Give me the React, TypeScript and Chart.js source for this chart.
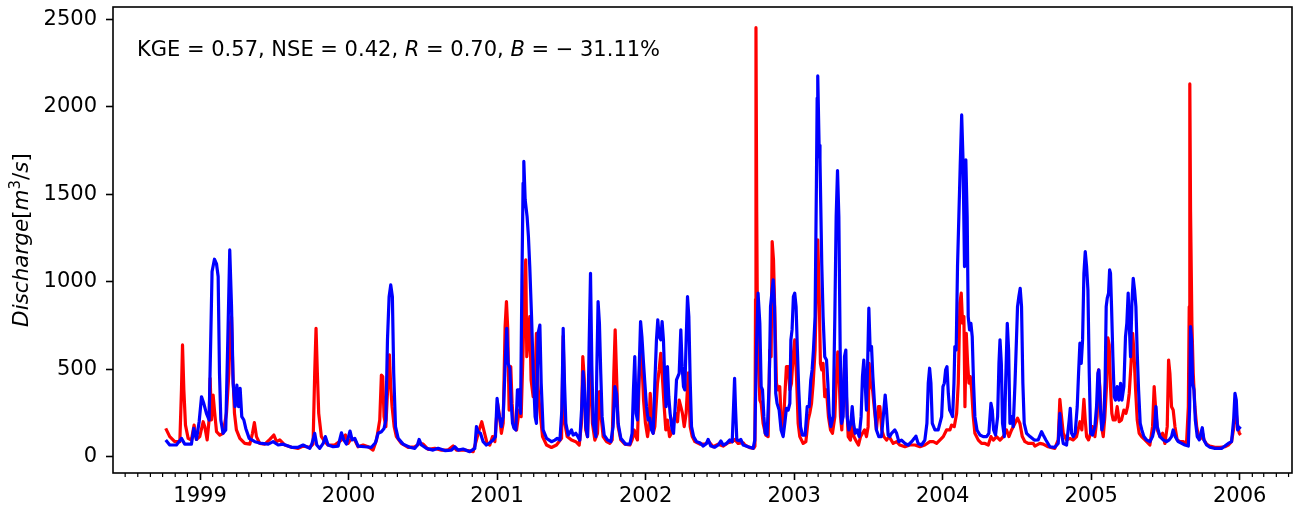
import React, { useEffect, useRef } from "react";
import { Chart, registerables } from "chart.js";

Chart.register(...registerables);

// ---------- axis definitions ----------
const yearTicks = [1999, 2000, 2001, 2002, 2003, 2004, 2005, 2006];
const dischargeTicks = [0, 500, 1000, 1500, 2000, 2500];
const xMin = 1998.414;
const xMax = 2006.352;
const yMin = -93;
const yMax = 2571;
// day-of-year of the first day of Feb..Dec (minor month ticks)
const monthStartDays = [31, 59, 90, 120, 151, 181, 212, 243, 273, 304, 334];

const statsText: [string, boolean][] = [
  ["KGE = 0.57, NSE = 0.42, ", false],
  ["R", true],
  [" = 0.70, ", false],
  ["B", true],
  [" = \u2212 31.11%", false],
];

// ---------- series: [decimal year, discharge m3/s] ----------
const observed: [number, number][] = [
  [1998.769, 162], [1998.796, 115], [1998.830, 86], [1998.864, 86], [1998.875, 382], [1998.882, 639], [1998.891, 382], [1998.902, 181], [1998.920, 105], [1998.942, 96], [1998.960, 181], [1998.976, 99], [1998.998, 115], [1999.021, 200], [1999.032, 172], [1999.048, 96], [1999.061, 210], [1999.068, 448], [1999.077, 210], [1999.088, 353], [1999.099, 248], [1999.111, 143], [1999.133, 124], [1999.155, 134], [1999.178, 248], [1999.194, 477], [1999.205, 763], [1999.212, 800], [1999.221, 477], [1999.232, 248], [1999.245, 153], [1999.268, 105], [1999.301, 76], [1999.335, 72], [1999.353, 134], [1999.366, 195], [1999.380, 115], [1999.402, 76], [1999.436, 72], [1999.470, 99], [1999.497, 124], [1999.515, 86], [1999.537, 96], [1999.571, 67], [1999.616, 54], [1999.661, 48], [1999.694, 61], [1999.739, 54],
  [1999.761, 72], [1999.772, 477], [1999.781, 734], [1999.790, 477], [1999.799, 248], [1999.817, 115], [1999.840, 86], [1999.862, 67], [1999.907, 67], [1999.952, 96], [1999.979, 124], [1999.997, 76], [2000.019, 105], [2000.042, 96], [2000.064, 57], [2000.098, 67], [2000.132, 57], [2000.165, 38], [2000.188, 96], [2000.210, 210], [2000.221, 467], [2000.230, 458], [2000.239, 229], [2000.251, 172], [2000.266, 439], [2000.275, 582], [2000.284, 400], [2000.293, 286], [2000.307, 172], [2000.322, 115], [2000.356, 76], [2000.401, 54], [2000.446, 57], [2000.480, 76], [2000.502, 72], [2000.536, 42], [2000.581, 48], [2000.626, 38], [2000.670, 38], [2000.704, 61],
  [2000.726, 38], [2000.783, 38], [2000.839, 29], [2000.861, 95], [2000.879, 153], [2000.897, 200], [2000.913, 143], [2000.933, 76], [2000.951, 67], [2000.969, 115], [2000.985, 86], [2001.003, 305], [2001.014, 248], [2001.029, 134], [2001.041, 191], [2001.054, 744], [2001.063, 887], [2001.072, 725], [2001.081, 267], [2001.092, 515], [2001.101, 305], [2001.112, 172], [2001.131, 153], [2001.149, 267], [2001.162, 229], [2001.175, 610], [2001.187, 1030], [2001.193, 1125], [2001.200, 572], [2001.211, 687], [2001.220, 801], [2001.229, 439], [2001.243, 343], [2001.256, 458], [2001.265, 706], [2001.274, 420], [2001.288, 267], [2001.306, 115], [2001.333, 67], [2001.366, 53], [2001.400, 67], [2001.434, 105], [2001.445, 690], [2001.456, 191], [2001.472, 115], [2001.501, 95], [2001.530, 86], [2001.553, 67], [2001.568, 191], [2001.577, 572], [2001.586, 458], [2001.597, 153], [2001.609, 115], [2001.626, 550], [2001.642, 191], [2001.658, 95],
  [2001.676, 134], [2001.689, 372], [2001.698, 248], [2001.714, 115], [2001.737, 86], [2001.759, 76], [2001.775, 96], [2001.786, 477], [2001.795, 725], [2001.804, 477], [2001.815, 172], [2001.833, 96], [2001.860, 72], [2001.894, 67], [2001.909, 96], [2001.923, 153], [2001.934, 115], [2001.945, 96], [2001.961, 572], [2001.972, 610], [2001.986, 324], [2001.999, 191], [2002.013, 115], [2002.022, 172], [2002.031, 362], [2002.040, 248], [2002.051, 134], [2002.062, 172], [2002.080, 420], [2002.091, 496], [2002.102, 591], [2002.114, 439], [2002.125, 286], [2002.136, 153], [2002.147, 210], [2002.161, 115], [2002.174, 134], [2002.188, 210], [2002.201, 248], [2002.215, 200], [2002.226, 324], [2002.237, 286], [2002.248, 248], [2002.260, 172], [2002.273, 248], [2002.287, 480], [2002.300, 172], [2002.314, 115], [2002.332, 86], [2002.365, 72], [2002.399, 72], [2002.426, 86], [2002.455, 57], [2002.489, 72], [2002.522, 61], [2002.556, 80], [2002.583, 86], [2002.601, 99], [2002.623, 76], [2002.657, 80],
  [2002.668, 67], [2002.701, 52], [2002.728, 48], [2002.736, 60], [2002.740, 900], [2002.743, 2453], [2002.748, 1400], [2002.753, 750], [2002.760, 520], [2002.769, 324], [2002.778, 305], [2002.791, 191], [2002.809, 124], [2002.825, 115], [2002.836, 610], [2002.845, 572], [2002.852, 1230], [2002.861, 1125], [2002.870, 820], [2002.881, 420], [2002.892, 382], [2002.903, 401], [2002.915, 172], [2002.926, 134], [2002.937, 343], [2002.948, 515], [2002.960, 515], [2002.971, 382], [2002.982, 420], [2002.993, 572], [2003.004, 668], [2003.016, 458], [2003.027, 191], [2003.038, 115], [2003.061, 76], [2003.079, 86], [2003.094, 210], [2003.105, 248], [2003.117, 305], [2003.128, 420], [2003.141, 610], [2003.150, 954], [2003.159, 1240], [2003.168, 954], [2003.177, 534], [2003.186, 496], [2003.195, 534], [2003.206, 343], [2003.218, 382], [2003.231, 229], [2003.245, 153], [2003.258, 134], [2003.274, 229], [2003.285, 480], [2003.294, 600], [2003.303, 450], [2003.312, 229], [2003.321, 153], [2003.334, 420], [2003.343, 572], [2003.352, 343], [2003.364, 115], [2003.379, 95], [2003.393, 229], [2003.402, 115], [2003.420, 86], [2003.433, 67], [2003.447, 115], [2003.460, 134], [2003.474, 153], [2003.487, 115], [2003.498, 172], [2003.505, 534], [2003.514, 420], [2003.528, 382], [2003.541, 267], [2003.554, 153], [2003.568, 286], [2003.577, 286], [2003.590, 153], [2003.604, 115], [2003.622, 95], [2003.640, 115],
  [2003.667, 76], [2003.690, 86], [2003.712, 67], [2003.746, 57], [2003.779, 67], [2003.813, 67], [2003.847, 57], [2003.880, 67], [2003.914, 86], [2003.937, 86], [2003.959, 76], [2003.981, 95], [2004.004, 115], [2004.026, 153], [2004.049, 153], [2004.060, 181], [2004.078, 172], [2004.094, 248], [2004.105, 420], [2004.116, 877], [2004.125, 935], [2004.134, 763], [2004.143, 801], [2004.150, 286], [2004.159, 706], [2004.168, 534], [2004.177, 420], [2004.186, 458], [2004.195, 382], [2004.206, 229], [2004.217, 134], [2004.240, 95], [2004.262, 76], [2004.285, 76], [2004.307, 67], [2004.325, 115], [2004.341, 95], [2004.363, 115], [2004.386, 95], [2004.408, 115], [2004.430, 153], [2004.446, 115], [2004.464, 153], [2004.487, 191], [2004.504, 220], [2004.520, 191], [2004.536, 115], [2004.554, 86], [2004.576, 76], [2004.610, 76],
  [2004.621, 61], [2004.654, 76], [2004.677, 72], [2004.710, 57], [2004.755, 48], [2004.778, 96], [2004.789, 328], [2004.798, 248], [2004.812, 134], [2004.834, 96], [2004.856, 105], [2004.879, 96], [2004.901, 115], [2004.924, 200], [2004.937, 153], [2004.951, 328], [2004.960, 210], [2004.969, 115], [2004.982, 96], [2004.996, 134], [2005.009, 172], [2005.025, 115], [2005.040, 229], [2005.049, 496], [2005.058, 401], [2005.070, 172], [2005.081, 115], [2005.092, 229], [2005.103, 401], [2005.112, 680], [2005.121, 640], [2005.130, 401], [2005.139, 248], [2005.148, 210], [2005.162, 210], [2005.175, 286], [2005.189, 200], [2005.204, 210], [2005.220, 267], [2005.234, 248], [2005.245, 286], [2005.256, 362], [2005.267, 515], [2005.279, 706], [2005.287, 610], [2005.299, 382], [2005.310, 210], [2005.323, 134], [2005.339, 115], [2005.362, 96], [2005.395, 67], [2005.413, 172], [2005.424, 401], [2005.433, 286], [2005.445, 153], [2005.463, 115], [2005.481, 134], [2005.496, 76], [2005.512, 172], [2005.521, 553], [2005.530, 477], [2005.541, 286], [2005.552, 267], [2005.564, 172], [2005.579, 96], [2005.597, 86],
  [2005.620, 86], [2005.642, 76], [2005.654, 286], [2005.660, 858], [2005.664, 2131], [2005.669, 1400], [2005.678, 763], [2005.687, 477], [2005.698, 286], [2005.710, 172], [2005.723, 115], [2005.737, 105], [2005.750, 134], [2005.759, 96], [2005.777, 72], [2005.799, 61], [2005.833, 54], [2005.867, 54], [2005.900, 57], [2005.923, 67], [2005.945, 86], [2005.961, 172], [2005.972, 286], [2005.984, 191], [2005.997, 134], [2006.006, 124],
];

const simulated: [number, number][] = [
  [1998.769, 96], [1998.796, 67], [1998.841, 67], [1998.875, 105], [1998.897, 72], [1998.942, 72], [1998.958, 162], [1998.976, 99], [1998.994, 200], [1999.010, 343], [1999.025, 305], [1999.043, 248], [1999.061, 210], [1999.072, 668], [1999.081, 1059], [1999.097, 1129], [1999.111, 1102], [1999.122, 1030], [1999.131, 477], [1999.140, 210], [1999.155, 134], [1999.173, 153], [1999.187, 668], [1999.200, 1182], [1999.212, 858], [1999.223, 420], [1999.236, 286], [1999.248, 410], [1999.259, 286], [1999.270, 391], [1999.281, 229], [1999.295, 210], [1999.308, 162], [1999.331, 105], [1999.369, 86], [1999.414, 76], [1999.459, 72], [1999.492, 86], [1999.526, 67], [1999.560, 72], [1999.616, 54], [1999.661, 54], [1999.694, 67], [1999.739, 48],
  [1999.754, 76], [1999.772, 134], [1999.786, 67], [1999.806, 48], [1999.829, 76], [1999.844, 115], [1999.862, 67], [1999.896, 57], [1999.930, 61], [1999.952, 137], [1999.968, 96], [1999.986, 72], [2000.010, 147], [2000.024, 96], [2000.042, 105], [2000.064, 61], [2000.109, 57], [2000.154, 54], [2000.181, 80], [2000.199, 134], [2000.221, 143], [2000.239, 162], [2000.251, 210], [2000.262, 668], [2000.273, 915], [2000.284, 982], [2000.295, 915], [2000.304, 477], [2000.316, 172], [2000.334, 105], [2000.367, 72], [2000.412, 54], [2000.446, 48], [2000.464, 67], [2000.475, 99], [2000.491, 67], [2000.525, 48], [2000.569, 38], [2000.603, 48], [2000.648, 35], [2000.693, 38],
  [2000.715, 57], [2000.738, 38], [2000.771, 44], [2000.816, 29], [2000.850, 48], [2000.861, 172], [2000.872, 143], [2000.888, 134], [2000.906, 86], [2000.928, 67], [2000.951, 80], [2000.973, 95], [2000.989, 115], [2001.000, 334], [2001.011, 248], [2001.029, 172], [2001.041, 229], [2001.054, 515], [2001.065, 734], [2001.074, 534], [2001.086, 506], [2001.095, 305], [2001.104, 191], [2001.115, 162], [2001.126, 153], [2001.137, 382], [2001.146, 382], [2001.158, 248], [2001.167, 992], [2001.175, 1564], [2001.180, 1688], [2001.189, 1469], [2001.202, 1373], [2001.211, 1259], [2001.220, 1087], [2001.232, 801], [2001.243, 496], [2001.256, 229], [2001.265, 191], [2001.276, 706], [2001.288, 753], [2001.297, 420], [2001.310, 153], [2001.333, 105], [2001.366, 86], [2001.389, 95], [2001.405, 105], [2001.423, 95], [2001.436, 267], [2001.445, 734], [2001.454, 420], [2001.463, 191], [2001.479, 124], [2001.501, 153], [2001.512, 124], [2001.530, 134], [2001.544, 115], [2001.557, 95], [2001.570, 286], [2001.579, 486], [2001.588, 382], [2001.597, 172], [2001.609, 115], [2001.620, 648], [2001.629, 1049], [2001.638, 515], [2001.647, 191], [2001.665, 115],
  [2001.671, 477], [2001.680, 887], [2001.689, 763], [2001.698, 477], [2001.707, 229], [2001.721, 124], [2001.743, 96], [2001.766, 86], [2001.781, 172], [2001.793, 401], [2001.804, 362], [2001.815, 191], [2001.833, 105], [2001.865, 72], [2001.894, 72], [2001.909, 134], [2001.918, 382], [2001.927, 572], [2001.936, 248], [2001.945, 210], [2001.957, 515], [2001.966, 773], [2001.975, 687], [2001.986, 534], [2001.995, 420], [2002.006, 286], [2002.017, 210], [2002.028, 220], [2002.040, 153], [2002.051, 134], [2002.062, 420], [2002.073, 668], [2002.082, 782], [2002.091, 687], [2002.102, 668], [2002.111, 773], [2002.120, 668], [2002.129, 439], [2002.138, 286], [2002.147, 515], [2002.156, 343], [2002.165, 248], [2002.177, 162], [2002.188, 134], [2002.199, 286], [2002.208, 439], [2002.217, 458], [2002.226, 477], [2002.237, 725], [2002.246, 515], [2002.255, 401], [2002.264, 382], [2002.273, 668], [2002.282, 915], [2002.291, 801], [2002.300, 439], [2002.309, 172], [2002.323, 115], [2002.343, 86], [2002.365, 80], [2002.388, 61], [2002.410, 76], [2002.421, 99], [2002.439, 61], [2002.466, 54], [2002.489, 67], [2002.507, 90], [2002.522, 67], [2002.545, 76], [2002.567, 96], [2002.583, 86], [2002.592, 286], [2002.599, 448], [2002.605, 286], [2002.614, 96], [2002.630, 92], [2002.641, 99], [2002.657, 67],
  [2002.690, 57], [2002.724, 48], [2002.735, 95], [2002.746, 610], [2002.757, 935], [2002.769, 763], [2002.778, 401], [2002.787, 382], [2002.796, 229], [2002.805, 134], [2002.818, 124], [2002.832, 420], [2002.841, 858], [2002.852, 954], [2002.859, 1011], [2002.868, 858], [2002.876, 363], [2002.885, 305], [2002.899, 267], [2002.912, 153], [2002.926, 115], [2002.937, 191], [2002.948, 277], [2002.960, 267], [2002.971, 305], [2002.978, 668], [2002.986, 725], [2002.995, 916], [2003.004, 935], [2003.013, 858], [2003.022, 610], [2003.031, 382], [2003.043, 172], [2003.056, 124], [2003.074, 124], [2003.088, 286], [2003.101, 286], [2003.112, 439], [2003.121, 496], [2003.130, 610], [2003.141, 801], [2003.150, 1564], [2003.155, 2050], [2003.159, 2177], [2003.163, 2000], [2003.168, 1780], [2003.174, 1700], [2003.179, 1450], [2003.186, 1100], [2003.195, 801], [2003.206, 572], [2003.218, 553], [2003.227, 420], [2003.236, 248], [2003.247, 172], [2003.263, 229], [2003.274, 801], [2003.283, 1373], [2003.292, 1636], [2003.301, 1373], [2003.310, 610], [2003.319, 191], [2003.330, 229], [2003.339, 572], [2003.348, 610], [2003.357, 229], [2003.368, 153], [2003.382, 191], [2003.391, 286], [2003.400, 191], [2003.411, 134], [2003.424, 153], [2003.438, 115], [2003.451, 229], [2003.460, 458], [2003.469, 553], [2003.478, 420], [2003.487, 267], [2003.496, 572], [2003.503, 849], [2003.512, 610], [2003.521, 630], [2003.530, 458], [2003.541, 305], [2003.554, 153], [2003.570, 115], [2003.588, 115], [2003.604, 267], [2003.613, 353], [2003.622, 267], [2003.633, 124], [2003.644, 115],
  [2003.656, 134], [2003.678, 153], [2003.690, 134], [2003.705, 86], [2003.723, 95], [2003.746, 76], [2003.768, 67], [2003.791, 86], [2003.809, 105], [2003.820, 118], [2003.835, 76], [2003.858, 67], [2003.880, 95], [2003.894, 191], [2003.903, 420], [2003.912, 506], [2003.921, 420], [2003.930, 191], [2003.948, 153], [2003.970, 153], [2003.993, 229], [2004.002, 401], [2004.011, 420], [2004.020, 496], [2004.029, 515], [2004.038, 363], [2004.047, 267], [2004.058, 248], [2004.067, 229], [2004.076, 420], [2004.082, 630], [2004.091, 610], [2004.100, 1087], [2004.109, 1373], [2004.118, 1659], [2004.128, 1954], [2004.137, 1700], [2004.147, 1087], [2004.156, 1697], [2004.165, 1373], [2004.172, 801], [2004.181, 725], [2004.190, 763], [2004.199, 687], [2004.208, 420], [2004.217, 229], [2004.231, 153], [2004.251, 124], [2004.273, 115], [2004.296, 115], [2004.311, 134], [2004.325, 305], [2004.334, 267], [2004.343, 153], [2004.356, 124], [2004.370, 229], [2004.379, 534], [2004.386, 668], [2004.395, 534], [2004.403, 191], [2004.415, 115], [2004.424, 420], [2004.435, 763], [2004.444, 610], [2004.453, 191], [2004.464, 229], [2004.475, 172], [2004.487, 420], [2004.496, 649], [2004.504, 858], [2004.513, 916], [2004.522, 963], [2004.531, 858], [2004.540, 420], [2004.549, 191], [2004.565, 134], [2004.588, 115], [2004.617, 95],
  [2004.643, 96], [2004.666, 143], [2004.677, 124], [2004.695, 96], [2004.722, 57], [2004.755, 54], [2004.778, 76], [2004.789, 248], [2004.800, 134], [2004.812, 76], [2004.834, 67], [2004.852, 210], [2004.859, 277], [2004.868, 134], [2004.879, 115], [2004.892, 134], [2004.906, 286], [2004.915, 477], [2004.924, 649], [2004.933, 534], [2004.942, 668], [2004.951, 1049], [2004.960, 1173], [2004.969, 1087], [2004.978, 954], [2004.987, 477], [2004.996, 134], [2005.009, 124], [2005.025, 172], [2005.036, 286], [2005.045, 477], [2005.052, 496], [2005.061, 286], [2005.072, 153], [2005.085, 210], [2005.094, 439], [2005.101, 858], [2005.108, 906], [2005.117, 935], [2005.124, 1068], [2005.130, 1049], [2005.137, 858], [2005.146, 572], [2005.155, 343], [2005.164, 324], [2005.175, 401], [2005.186, 324], [2005.198, 420], [2005.207, 324], [2005.220, 401], [2005.231, 687], [2005.240, 763], [2005.249, 935], [2005.256, 763], [2005.265, 572], [2005.274, 877], [2005.283, 1020], [2005.292, 954], [2005.301, 858], [2005.310, 591], [2005.319, 382], [2005.330, 191], [2005.341, 153], [2005.355, 115], [2005.373, 96], [2005.395, 86], [2005.413, 115], [2005.427, 172], [2005.436, 286], [2005.445, 172], [2005.463, 115], [2005.485, 96], [2005.507, 86], [2005.525, 96], [2005.541, 115], [2005.552, 153], [2005.566, 115], [2005.586, 86],
  [2005.631, 67], [2005.654, 61], [2005.663, 286], [2005.669, 744], [2005.676, 668], [2005.683, 420], [2005.692, 382], [2005.701, 210], [2005.714, 115], [2005.728, 96], [2005.741, 143], [2005.748, 166], [2005.759, 96], [2005.777, 67], [2005.799, 54], [2005.833, 48], [2005.878, 48], [2005.900, 61], [2005.923, 76], [2005.945, 86], [2005.959, 210], [2005.968, 362], [2005.977, 324], [2005.986, 153], [2005.995, 162], [2006.006, 172],
];

const FONT = "'DejaVu Sans', sans-serif";
const TICK_SIZE = 21;
const LABEL_SIZE = 21.5;

export default function App() {
  const canvasRef = useRef<HTMLCanvasElement>(null);

  useEffect(() => {
    document.body.style.margin = "0";
    const canvas = canvasRef.current;
    if (!canvas) return;

    const overlay = {
      id: "mplOverlay",
      afterDraw(chart: any) {
        const { ctx, chartArea: a, scales } = chart;
        ctx.save();
        // axes box (spines)
        ctx.strokeStyle = "#000";
        ctx.lineWidth = 1.6;
        ctx.strokeRect(a.left, a.top, a.right - a.left, a.bottom - a.top);

        // minor (monthly) ticks
        const xs = scales.x;
        ctx.lineWidth = 1.2;
        for (let yr = 1998; yr <= 2006; yr++) {
          for (const d of monthStartDays) {
            const v = yr + d / 365;
            if (v < xMin || v > xMax) continue;
            const px = xs.getPixelForValue(v);
            ctx.beginPath();
            ctx.moveTo(px, a.bottom);
            ctx.lineTo(px, a.bottom + 4);
            ctx.stroke();
          }
        }

        // statistics annotation
        ctx.fillStyle = "#000";
        ctx.textBaseline = "alphabetic";
        ctx.textAlign = "left";
        let x = a.left + 24;
        const base = a.top + 49;
        for (const [txt, ital] of statsText) {
          ctx.font = `${ital ? "italic " : ""}${TICK_SIZE}px ${FONT}`;
          ctx.fillText(txt, x, base);
          x += ctx.measureText(txt).width;
        }

        // y-axis label (mathtext-like italic with superscript)
        const parts: [string, string, number][] = [
          ["Discharge", `italic ${LABEL_SIZE}px ${FONT}`, 0],
          ["[", `${LABEL_SIZE}px ${FONT}`, 0],
          ["m", `italic ${LABEL_SIZE}px ${FONT}`, 0],
          ["3", `${Math.round(LABEL_SIZE * 0.7)}px ${FONT}`, -8],
          ["/", `${LABEL_SIZE}px ${FONT}`, 0],
          ["s", `italic ${LABEL_SIZE}px ${FONT}`, 0],
          ["]", `${LABEL_SIZE}px ${FONT}`, 0],
        ];
        let total = 0;
        for (const [t, f] of parts) {
          ctx.font = f;
          total += ctx.measureText(t).width;
        }
        ctx.translate(28, (a.top + a.bottom) / 2);
        ctx.rotate(-Math.PI / 2);
        let lx = -total / 2;
        for (const [t, f, dy] of parts) {
          ctx.font = f;
          ctx.fillText(t, lx, dy);
          lx += ctx.measureText(t).width;
        }
        ctx.restore();
      },
    };

    const sortPts = (arr: [number, number][]) =>
      arr.slice().sort((p, q) => p[0] - q[0]).map(([x, y]) => ({ x, y }));

    const chart = new Chart(canvas, {
      type: "line",
      data: {
        datasets: [
          {
            label: "Simulated",
            data: sortPts(simulated),
            borderColor: "#0000ff",
            backgroundColor: "#0000ff",
            borderWidth: 3.2,
            pointRadius: 0,
            tension: 0,
            borderJoinStyle: "round",
            order: 0,
          },
          {
            label: "Observed",
            data: sortPts(observed),
            borderColor: "#ff0000",
            backgroundColor: "#ff0000",
            borderWidth: 3.2,
            pointRadius: 0,
            tension: 0,
            borderJoinStyle: "round",
            order: 1,
          },
        ],
      },
      options: {
        responsive: false,
        maintainAspectRatio: false,
        devicePixelRatio: 1,
        animation: false,
        events: [],
        layout: { padding: { left: 0, top: 7, right: 3, bottom: 0 } },
        plugins: {
          legend: { display: false },
          tooltip: { enabled: false },
          title: { display: false },
        },
        scales: {
          x: {
            type: "linear",
            min: xMin,
            max: xMax,
            afterBuildTicks: (s: any) => {
              s.ticks = yearTicks.map((v) => ({ value: v }));
            },
            afterFit: (s: any) => {
              s.height = 38;
              s.paddingLeft = 0;
              s.paddingRight = 0;
            },
            ticks: {
              autoSkip: false,
              maxRotation: 0,
              minRotation: 0,
              padding: 4,
              color: "#000",
              font: { family: FONT, size: TICK_SIZE },
              callback: (v: any) => String(v),
            },
            grid: {
              drawOnChartArea: false,
              drawTicks: true,
              tickLength: 7,
              tickWidth: 1.6,
              tickColor: "#000",
            },
            border: { display: false },
          },
          y: {
            type: "linear",
            min: yMin,
            max: yMax,
            afterBuildTicks: (s: any) => {
              s.ticks = dischargeTicks.map((v) => ({ value: v }));
            },
            afterFit: (s: any) => {
              s.width = 113;
              s.paddingTop = 0;
              s.paddingBottom = 0;
            },
            ticks: {
              autoSkip: false,
              padding: 9,
              color: "#000",
              font: { family: FONT, size: TICK_SIZE },
              callback: (v: any) => String(v),
            },
            grid: {
              drawOnChartArea: false,
              drawTicks: true,
              tickLength: 7,
              tickWidth: 1.6,
              tickColor: "#000",
            },
            border: { display: false },
          },
        },
      },
      plugins: [overlay],
    } as any);

    return () => chart.destroy();
  }, []);

  return (
    <div style={{ position: "absolute", left: 0, top: 0, width: 1295, height: 511, background: "#fff" }}>
      <canvas ref={canvasRef} width={1295} height={511} style={{ display: "block", width: 1295, height: 511 }} />
    </div>
  );
}
